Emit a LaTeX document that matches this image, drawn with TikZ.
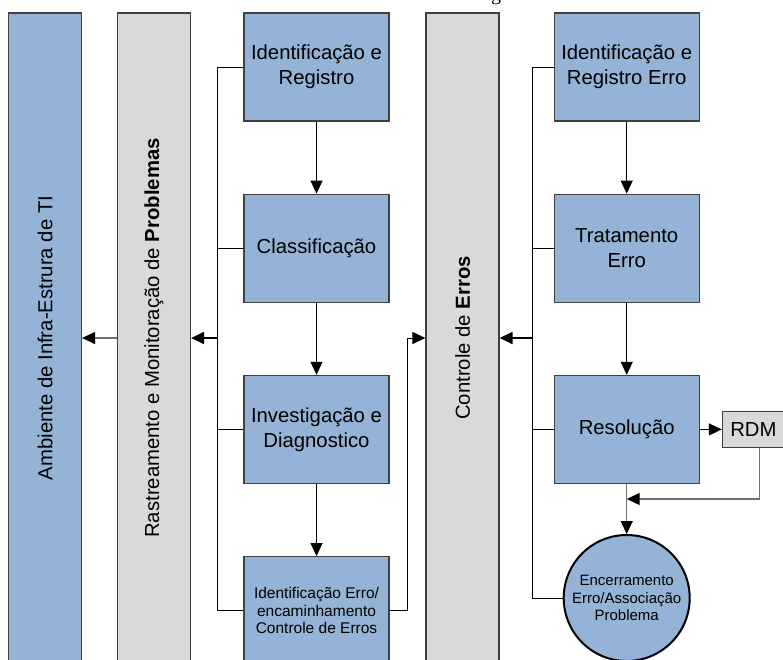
\documentclass[tikz,border=0pt]{standalone}
\usepackage{fontspec}
\setmainfont{Liberation Sans}
\newfontfamily\capfont{Liberation Serif}
\usetikzlibrary{arrows.meta,positioning}
\definecolor{boxblue}{HTML}{95B3D7}
\definecolor{colgray}{HTML}{D9D9D9}
\definecolor{edgegray}{HTML}{404040}
\definecolor{linegray}{HTML}{707070}
\tikzset{
  stepbox/.style={draw=edgegray, line width=1.2pt, fill=boxblue, align=center,
    minimum width=145pt, minimum height=108pt, inner sep=2pt,
    font=\fontsize{20.3}{25}\selectfont},
  smallbox/.style={stepbox, font=\fontsize{15.5}{17.8}\selectfont},
  column/.style={draw=edgegray, line width=1.2pt, fill=colgray, rotate=90,
    minimum width=650pt, minimum height=73pt, inner sep=0pt,
    font=\fontsize{20.3}{25}\selectfont},
  bluecolumn/.style={column, fill=boxblue},
  rdmbox/.style={draw=edgegray, line width=1.2pt, fill=colgray,
    minimum width=62pt, minimum height=36pt, inner sep=0pt,
    font=\fontsize{20.3}{25}\selectfont},
  endcircle/.style={circle, draw=black, line width=2pt, fill=boxblue,
    minimum size=126pt, inner sep=0pt, align=center,
    font=\fontsize{15}{17.3}\selectfont},
  bus/.style={line width=1pt, draw=black},
  arr/.style={-{Triangle[length=13pt,width=12pt]}, line width=1pt, draw=black},
  thickarr/.style={arr, line width=2pt},
  greyarr/.style={-{Triangle[length=13pt,width=12pt,color=black]},
    line width=1.2pt, draw=linegray}
}

\begin{document}
\begin{tikzpicture}[x=1pt, y=1pt, node distance=72pt]
    \useasboundingbox (0,0) rectangle (783,-659);
    \node[anchor=base, inner sep=0pt, font=\capfont\fontsize{20}{24}\selectfont] (captail) at (496,0) {g};
    % colunas
    \node[bluecolumn] (infra) at (45,-338) {Ambiente de Infra-Estrura de TI};
    \node[column] (rastreio) at (154,-338) {Rastreamento e Monitoração de \textbf{Problemas}};
    \node[column] (controle) at (462.5,-338) {Controle de \textbf{Erros}};
    % problemas
    \node[stepbox] (ident) at (316.5,-67) {Identificação e\\Registro};
    \node[stepbox, below=of ident] (classif) {Classificação};
    \node[stepbox, below=of classif] (invest) {Investigação e\\Diagnostico};
    \node[smallbox, below=of invest] (iderro) {Identificação Erro/\\encaminhamento\\Controle de Erros};
    % erros
    \node[stepbox, right=164pt of ident] (regerro) {Identificação e\\Registro Erro};
    \node[stepbox, below=of regerro] (tratam) {Tratamento\\Erro};
    \node[stepbox, below=of tratam] (resol) {Resolução};
    \node[rdmbox, right=22pt of resol] (rdm) {RDM};
    \node[endcircle, below=50pt of resol] (encerr) {Encerramento\\Erro/Associação\\Problema};
    \coordinate[below=15pt of resol] (merge);
    \coordinate (lbus) at (217,-338);
    \coordinate (rbus) at (532,-338);
    % setas
    \draw[arr] (ident) -- (classif);
    \draw[arr] (classif) -- (invest);
    \draw[arr] (invest) -- (iderro);
    \draw[bus] (ident.west) -| (iderro.west -| lbus) -- (iderro.west);
    \draw[bus] (classif.west) -- (classif.west -| lbus);
    \draw[bus] (invest.west) -- (invest.west -| lbus);
    \draw[thickarr] (lbus) -- (rastreio.south);
    \draw[greyarr] (rastreio.north) -- (infra.south);
    \draw[arr] (iderro.east) -- ++(18,0) |- (controle.north);
    \draw[arr] (regerro) -- (tratam);
    \draw[arr] (tratam) -- (resol);
    \draw[bus] (regerro.west) -| (encerr.west -| rbus) -- (encerr.west);
    \draw[bus] (tratam.west) -- (tratam.west -| rbus);
    \draw[bus] (resol.west) -- (resol.west -| rbus);
    \draw[thickarr] (rbus) -- (controle.south);
    \draw[arr] (resol) -- (rdm);
    \draw[greyarr] ([xshift=6pt]rdm.south) |- (merge);
    \draw[greyarr] (resol) -- (encerr);
\end{tikzpicture}
\end{document}
